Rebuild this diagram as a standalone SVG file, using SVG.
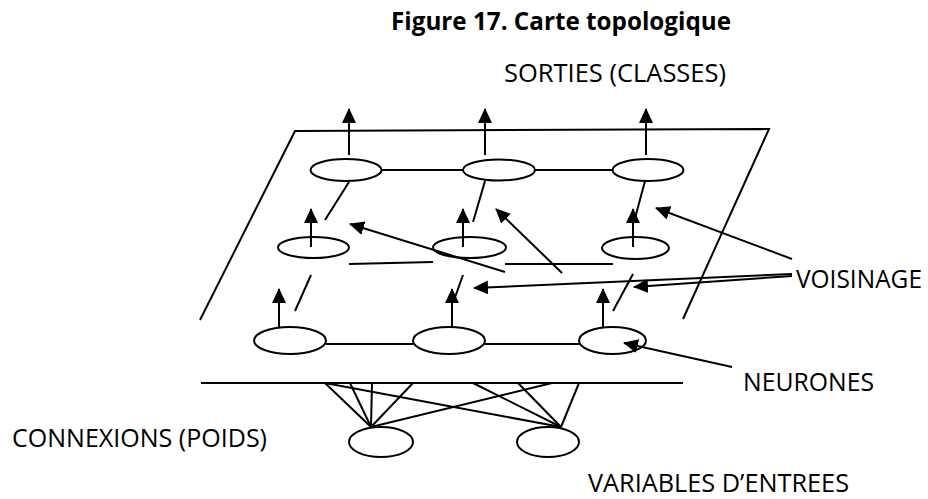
<svg xmlns="http://www.w3.org/2000/svg" width="928" height="499" viewBox="0 0 928 499">
  <style>
    .ln { stroke: #000; stroke-width: 2; fill: none; }
    .nd { stroke: #000; stroke-width: 2; fill: #fff; }
    .ar { stroke: #000; stroke-width: 2; fill: none; marker-end: url(#head); }
    .lbl { font-family: "Open Sans", "Liberation Sans", sans-serif; font-size: 25px; fill: #000; }
    .ttl { font-family: "Open Sans", "Liberation Sans", sans-serif; font-size: 25px; font-weight: bold; fill: #000; }
  </style>
  <defs>
    <marker id="head" markerUnits="userSpaceOnUse" markerWidth="16" markerHeight="16" refX="14" refY="7" orient="auto">
      <path d="M0,0 L15,7 L0,14 Z" fill="#000"/>
    </marker>
  </defs>

  <rect width="928" height="499" fill="#fff"/>

  <text class="ttl" x="391" y="30" textLength="340" lengthAdjust="spacingAndGlyphs">Figure 17. Carte topologique</text>
  <text class="lbl" x="504" y="82" textLength="222" lengthAdjust="spacingAndGlyphs">SORTIES (CLASSES)</text>

  <!-- map plane and input base line -->
  <g id="plane">
    <polyline class="ln" points="200,320 295,131 769,129 683,319"/>
    <line class="ln" x1="201" y1="383" x2="683" y2="383"/>
  </g>

  <g id="connectors">
    <!-- lateral links between neurons -->
    <line class="ln" x1="381" y1="170" x2="463" y2="170"/>
    <line class="ln" x1="535" y1="170" x2="613" y2="170"/>
    <line class="ln" x1="349" y1="264" x2="433" y2="262"/>
    <line class="ln" x1="505" y1="264" x2="613" y2="264"/>
    <line class="ln" x1="326" y1="344" x2="413" y2="344"/>
    <line class="ln" x1="485" y1="344" x2="579" y2="344"/>
    <line class="ln" x1="349" y1="182" x2="325" y2="220"/>
    <line class="ln" x1="485" y1="181" x2="473" y2="222"/>
    <line class="ln" x1="645" y1="181" x2="634" y2="222"/>
    <line class="ln" x1="311" y1="275" x2="295" y2="311"/>
    <line class="ln" x1="463" y1="275" x2="453" y2="303"/>
    <line class="ln" x1="633" y1="274" x2="613" y2="311"/>
    <!-- outputs -->
    <line class="ar" x1="349" y1="155" x2="349" y2="109"/>
    <line class="ar" x1="485" y1="155" x2="485" y2="109"/>
    <line class="ar" x1="646" y1="155" x2="646" y2="109"/>
    <line class="ar" x1="311" y1="247" x2="311" y2="209"/>
    <line class="ar" x1="463" y1="247" x2="463" y2="209"/>
    <line class="ar" x1="633" y1="247" x2="633" y2="209"/>
    <line class="ar" x1="279" y1="327" x2="279" y2="289"/>
    <line class="ar" x1="452" y1="327" x2="452" y2="289"/>
    <line class="ar" x1="603" y1="327" x2="603" y2="289"/>
    <!-- weights -->
    <line class="ln" x1="371" y1="427" x2="325" y2="383"/>
    <line class="ln" x1="371" y1="427" x2="350" y2="383"/>
    <line class="ln" x1="371" y1="427" x2="372" y2="383"/>
    <line class="ln" x1="371" y1="427" x2="413" y2="383"/>
    <line class="ln" x1="371" y1="427" x2="552" y2="383"/>
    <line class="ln" x1="561" y1="427" x2="325" y2="383"/>
    <line class="ln" x1="561" y1="427" x2="473" y2="383"/>
    <line class="ln" x1="561" y1="427" x2="518" y2="383"/>
    <line class="ln" x1="561" y1="427" x2="579" y2="383"/>
  </g>

  <!-- neurons of the map -->
  <g id="n11"><ellipse class="nd" cx="346" cy="170" rx="35.5" ry="11"/></g>
  <g id="n12"><ellipse class="nd" cx="499" cy="170" rx="36" ry="10.5"/></g>
  <g id="n13"><ellipse class="nd" cx="648" cy="170" rx="35.5" ry="11"/></g>
  <g id="n21"><ellipse class="nd" cx="313.5" cy="247.5" rx="35.5" ry="10.5"/></g>
  <g id="n22"><ellipse class="nd" cx="469.5" cy="247.5" rx="36.5" ry="10.5"/></g>
  <g id="n23"><ellipse class="nd" cx="635.5" cy="248" rx="33.5" ry="11"/></g>
  <g id="n31"><ellipse class="nd" cx="290" cy="340.5" rx="36" ry="13.5"/></g>
  <g id="n32"><ellipse class="nd" cx="449" cy="340.5" rx="36" ry="13.5"/></g>
  <g id="n33"><ellipse class="nd" cx="612.5" cy="340.5" rx="33.5" ry="13.5"/></g>
  <!-- input variables -->
  <g id="x1"><ellipse class="nd" cx="381" cy="442" rx="32" ry="15"/></g>
  <g id="x2"><ellipse class="nd" cx="548" cy="442" rx="31" ry="15"/></g>

  <!-- stems of the vertical arrows drawn over the middle-row neurons -->
  <g id="stems">
    <line class="ln" x1="311" y1="247" x2="311" y2="236"/>
    <line class="ln" x1="463" y1="247" x2="463" y2="236"/>
    <line class="ln" x1="633" y1="247" x2="633" y2="236"/>
  </g>

  <g id="annotations">
    <line class="ar" x1="505" y1="272" x2="350" y2="224"/>
    <line class="ar" x1="562" y1="273" x2="496" y2="209"/>
    <line class="ar" x1="792" y1="259" x2="656" y2="208"/>
    <line class="ar" x1="792" y1="274" x2="474" y2="288"/>
    <line class="ar" x1="792" y1="276" x2="634" y2="287"/>
    <line class="ar" x1="732" y1="367" x2="624" y2="343"/>
    <text class="lbl" x="796" y="288" textLength="126" lengthAdjust="spacingAndGlyphs">VOISINAGE</text>
    <text class="lbl" x="743" y="391" textLength="131" lengthAdjust="spacingAndGlyphs">NEURONES</text>
    <text class="lbl" x="12" y="447" textLength="255" lengthAdjust="spacingAndGlyphs">CONNEXIONS (POIDS)</text>
    <text class="lbl" x="588" y="492" textLength="261" lengthAdjust="spacingAndGlyphs">VARIABLES D’ENTREES</text>
  </g>
</svg>
